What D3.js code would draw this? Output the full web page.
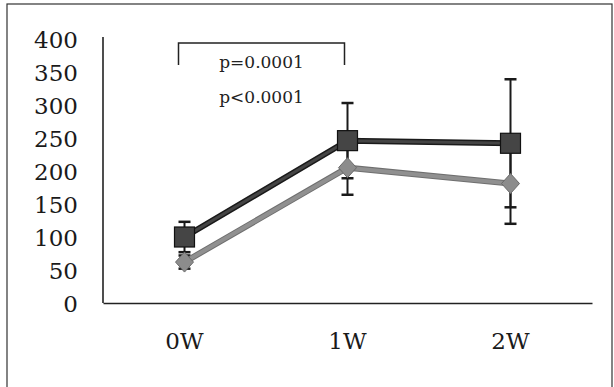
<!DOCTYPE html>
<html>
<head>
<meta charset="utf-8">
<script src="https://cdn.jsdelivr.net/npm/d3@7"></script>
<style>
  body { margin: 0; background: #fff; }
  svg { display: block; }
</style>
</head>
<body>
<div id="chart"></div>
<script>
// data
var categories = ["0W", "1W", "2W"];
var yTicks = [0, 50, 100, 150, 200, 250, 300, 350, 400];
var squareMean = [100, 246, 242];
var squareErr = [23, 57, 97];
var diamondMean = [62, 205, 181];
var diamondErr = [10, 41, 61];
var pLabels = ["p=0.0001", "p<0.0001"];

var width = 614, height = 387;

var svg = d3.select("#chart")
    .append("svg")
    .attr("width", width)
    .attr("height", height);

// outer frame
svg.append("rect")
    .attr("x", 7)
    .attr("y", 4)
    .attr("width", 605)
    .attr("height", 390)
    .style("fill", "none")
    .style("stroke", "#333")
    .style("stroke-width", "1.2px");

var x = d3.scaleBand()
    .domain(categories)
    .range([103, 592]);

var y = d3.scaleLinear()
    .domain([0, 400])
    .range([303, 39]);

var cx = function (d, i) { return x(categories[i]) + x.bandwidth() / 2; };

// axes, no tick marks
var yAxis = d3.axisLeft(y).tickValues(yTicks).tickSize(0).tickPadding(25);
var xAxis = d3.axisBottom(x).tickSize(0).tickPadding(30);

var gy = svg.append("g")
    .attr("transform", "translate(103,0)")
    .call(yAxis);
gy.select(".domain").attr("d", "M0," + (y(400) - 2) + "V" + y(0))
    .style("stroke", "#222").style("stroke-width", "1.6px");
gy.selectAll("text")
    .attr("dy", "0.38em")
    .style("font-family", "'DejaVu Serif', serif")
    .style("font-size", "23px")
    .style("fill", "#1a1a1a");

var gx = svg.append("g")
    .attr("transform", "translate(0," + y(0) + ")")
    .call(xAxis);
gx.select(".domain").style("stroke", "#222").style("stroke-width", "1.6px");
gx.selectAll("text")
    .style("font-family", "'DejaVu Serif', serif")
    .style("font-size", "23px")
    .style("fill", "#1a1a1a");

// error bars
function errorBars(mean, err, color) {
    var g = svg.append("g");
    g.selectAll("line.stem")
        .data(mean)
        .enter()
        .append("line")
        .attr("x1", cx).attr("x2", cx)
        .attr("y1", function (d, i) { return y(d + err[i]); })
        .attr("y2", function (d, i) { return y(d - err[i]); })
        .style("stroke", color)
        .style("stroke-width", "2px");
    [1, -1].forEach(function (s) {
        g.selectAll("line.cap" + s)
            .data(mean)
            .enter()
            .append("line")
            .attr("x1", function (d, i) { return cx(d, i) - 6; })
            .attr("x2", function (d, i) { return cx(d, i) + 6; })
            .attr("y1", function (d, i) { return y(d + s * err[i]); })
            .attr("y2", function (d, i) { return y(d + s * err[i]); })
            .style("stroke", color)
            .style("stroke-width", "2.5px");
    });
}

errorBars(diamondMean, diamondErr, "#1a1a1a");
errorBars(squareMean, squareErr, "#1a1a1a");

// lines
var line = d3.line()
    .x(function (d, i) { return cx(d, i); })
    .y(function (d) { return y(d); });

svg.append("path")
    .datum(diamondMean)
    .attr("d", line)
    .style("fill", "none")
    .style("stroke", "#6f6f6f")
    .style("stroke-width", "6px");
svg.append("path")
    .datum(diamondMean)
    .attr("d", line)
    .style("fill", "none")
    .style("stroke", "#909090")
    .style("stroke-width", "4px");

svg.append("path")
    .datum(squareMean)
    .attr("d", line)
    .style("fill", "none")
    .style("stroke", "#1a1a1a")
    .style("stroke-width", "6px");
svg.append("path")
    .datum(squareMean)
    .attr("d", line)
    .style("fill", "none")
    .style("stroke", "#444")
    .style("stroke-width", "3px");

// markers
svg.selectAll("path.diamond")
    .data(diamondMean)
    .enter()
    .append("path")
    .attr("class", "diamond")
    .attr("d", "M0,-10L9,0L0,10L-9,0Z")
    .attr("transform", function (d, i) { return "translate(" + cx(d, i) + "," + y(d) + ")"; })
    .style("fill", "#8c8c8c")
    .style("stroke", "#6a6a6a")
    .style("stroke-width", "1px");

svg.selectAll("rect.square")
    .data(squareMean)
    .enter()
    .append("rect")
    .attr("class", "square")
    .attr("x", function (d, i) { return cx(d, i) - 10; })
    .attr("y", function (d) { return y(d) - 10; })
    .attr("width", 20)
    .attr("height", 20)
    .style("fill", "#454545")
    .style("stroke", "#111")
    .style("stroke-width", "1.2px");

// significance bracket between 0W and 1W
var bx0 = cx(0, 0) - 6, bx1 = cx(0, 1) - 3;
svg.append("path")
    .attr("d", "M" + bx0 + ",65V43H" + bx1 + "V65")
    .style("fill", "none")
    .style("stroke", "#222")
    .style("stroke-width", "1.5px");

svg.selectAll("text.pval")
    .data(pLabels)
    .enter()
    .append("text")
    .attr("class", "pval")
    .attr("x", (bx0 + bx1) / 2)
    .attr("y", function (d, i) { return 68 + i * 35; })
    .attr("text-anchor", "middle")
    .text(function (d) { return d; })
    .style("font-family", "'DejaVu Serif', serif")
    .style("font-size", "17px")
    .style("fill", "#222");
</script>
</body>
</html>
